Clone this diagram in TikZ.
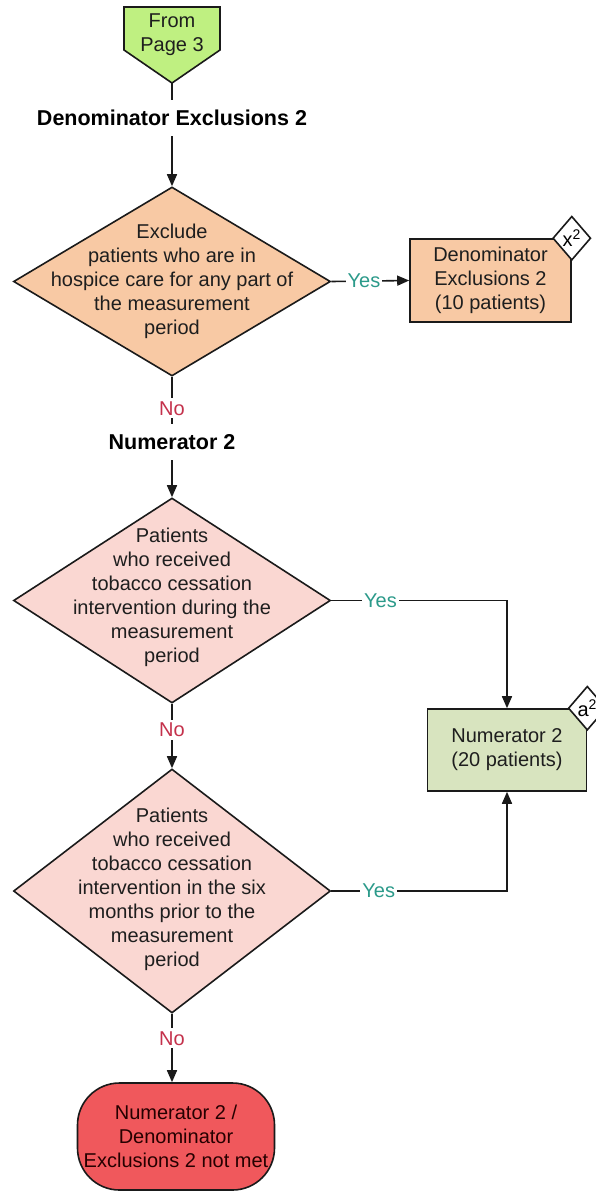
\documentclass[tikz,border=0pt]{standalone}
\usepackage{fontspec}
\setmainfont{Liberation Sans}
\usetikzlibrary{shapes.geometric,arrows.meta,calc}
\definecolor{limefill}{HTML}{BFF081}
\definecolor{peach}{HTML}{F8C9A4}
\definecolor{pinkfill}{HTML}{FAD7D2}
\definecolor{olivefill}{HTML}{D8E4BF}
\definecolor{termred}{HTML}{F0585C}
\definecolor{yescol}{HTML}{2B9A8A}
\definecolor{nocol}{HTML}{C4314B}
\definecolor{inkcol}{HTML}{1A1A1A}
\definecolor{txtcol}{HTML}{1E1E1E}
\tikzset{
  txt/.style={font=\fontsize{20}{24}\selectfont, align=center, text=txtcol, inner sep=0pt},
  hdr/.style={font=\fontsize{21.5}{24}\selectfont\bfseries, text=black, inner sep=0pt, minimum height=36pt},
  conn/.style={line width=1.6pt, draw=inkcol},
  arr/.style={-{Triangle[length=12pt,width=10pt]}},
  shp/.style={draw=inkcol, line width=1.6pt},
  dia/.style={shp, diamond, inner sep=0pt, minimum width=317pt},
  boxs/.style={shp, rectangle, inner sep=0pt, font=\fontsize{20}{24}\selectfont, align=center, text=txtcol},
  badge/.style={shp, diamond, fill=white, inner sep=0pt, minimum width=38pt, minimum height=44pt, font=\fontsize{20}{20}\selectfont},
  yesl/.style={fill=white, text=yescol, inner sep=2pt, font=\fontsize{20}{24}\selectfont},
  nol/.style={fill=white, text=nocol, inner sep=3pt, font=\fontsize{20}{24}\selectfont},
}
\begin{document}
\begin{tikzpicture}[x=1pt,y=-1pt]
\useasboundingbox[fill=white] (0,0) rectangle (595,1194);

% From page 3
\draw[shp, fill=limefill] (124,7) -- (220,7) -- (220,50) -- (172,83) -- (124,50) -- cycle;
\coordinate (ftip) at (172,83);
\node[txt] (from) at (172,35) {From\\Page 3};

% heading 1
\node[hdr] (h1) at (172,118) {Denominator Exclusions 2};

% decision 1
\node[dia, fill=peach, minimum height=189pt] (d1) at (172,281.5) {};
\node[txt] (d1t) at (172,281.5) {Exclude\\patients who are in\\hospice care for any part of\\the measurement\\period};

% box 1
\node[boxs, fill=peach, minimum width=161pt, minimum height=83pt] (b1) at (490.5,280.5) {Denominator\\Exclusions 2\\(10 patients)};
\node[badge] (bx) at (b1.north east) {x\textsuperscript{2}};

% heading 2
\node[hdr] (h2) at (172,442) {Numerator 2};

% decision 2
\node[dia, fill=pinkfill, minimum height=205pt] (d2) at (172,600.5) {};
\node[txt] (d2t) at (172,597.5) {Patients\\who received\\tobacco cessation\\intervention during the\\measurement\\period};

% box 2
\node[boxs, fill=olivefill, minimum width=159pt, minimum height=82pt] (b2) at (507,750) {Numerator 2\\(20 patients)};
\node[badge] (ba) at (b2.north east) {a\textsuperscript{2}};

% decision 3
\node[dia, fill=pinkfill, minimum height=244pt] (d3) at (172,891) {};
\node[txt] (d3t) at (172,889.5) {Patients\\who received\\tobacco cessation\\intervention in the six\\months prior to the\\measurement\\period};

% terminal
\node[boxs, fill=termred, rounded corners=42pt, minimum width=197pt, minimum height=107pt, text=black!85!red] (term) at (176,1136.5) {Numerator 2 /\\Denominator\\Exclusions 2 not met};

% connectors
\draw[conn] (ftip) -- (h1.north);
\draw[conn,arr] (h1.south) -- (d1.north);
\draw[conn,arr] (d1.east) -- node[yesl,pos=0.42]{Yes} (b1.west);
\draw[conn] (d1.south) -- node[nol,pos=0.67]{No} (h2.north);
\draw[conn,arr] (h2.south) -- (d2.north);
\draw[conn,arr] (d2.east) -- node[yesl,pos=0.28]{Yes} (d2.east -| b2.north) -- (b2.north);
\draw[conn,arr] (d2.south) -- node[nol,pos=0.41]{No} (d3.north);
\draw[conn,arr] (d3.east) -- node[yesl,pos=0.27]{Yes} (d3.east -| b2.south) -- (b2.south);
\draw[conn,arr] (d3.south) -- node[nol,pos=0.36]{No} (d3.south |- term.north);
\end{tikzpicture}
\end{document}
